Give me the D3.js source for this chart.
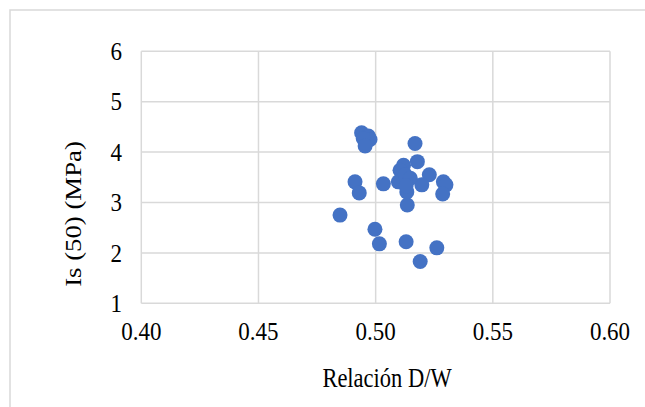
<!DOCTYPE html>
<html><head><meta charset="utf-8">
<script src="https://cdn.jsdelivr.net/npm/d3@7"></script>
<style>html,body{margin:0;padding:0;background:#fff;}svg{display:block;}</style>
</head><body>
<script>
const xVals = [0.4848,0.4912,0.4930,0.5033,0.4997,0.5016,0.5130,0.5261,0.5190,0.5135,0.5289,0.5300,0.5286,0.5229,0.5197,0.5178,0.5168,0.5119,0.5104,0.5097,0.5133,0.5126,0.5148,0.5130,0.4940,0.4969,0.4976,0.4947,0.4955];
const yVals = [2.75,3.41,3.19,3.37,2.47,2.18,2.22,2.10,1.83,2.95,3.41,3.35,3.17,3.55,3.35,3.81,4.17,3.74,3.64,3.41,3.21,3.55,3.48,3.33,4.385,4.32,4.25,4.27,4.12];
const xTicks = [0.40,0.45,0.50,0.55,0.60];
const yTicks = [1,2,3,4,5,6];
const xTitle = "Relación D/W";
const yTitle = "Is (50) (MPa)";

const W = 645, H = 407;
const svg = d3.select("body").append("svg").attr("width", W).attr("height", H);
svg.append("rect").attr("x",10).attr("y",10).attr("width",800).attr("height",600)
  .attr("fill","#fff").attr("stroke","#d9d9d9").attr("stroke-width",1.5);

const x = d3.scaleLinear().domain([0.40,0.60]).range([141.3,610]);
const y = d3.scaleLinear().domain([1,6]).range([303.3,51.3]);

const g = svg.append("g");
g.selectAll("line.h").data(yTicks).enter().append("line")
  .attr("x1",x(0.40)).attr("x2",x(0.60)).attr("y1",d=>y(d)).attr("y2",d=>y(d))
  .attr("stroke","#d9d9d9").attr("stroke-width",1.5);
g.selectAll("line.v").data(xTicks).enter().append("line")
  .attr("y1",y(1)).attr("y2",y(6)).attr("x1",d=>x(d)).attr("x2",d=>x(d))
  .attr("stroke","#d9d9d9").attr("stroke-width",1.5);

const font = "Liberation Serif, Times New Roman, serif";
g.selectAll("text.yt").data(yTicks).enter().append("text")
  .attr("transform",d=>`translate(122,${y(d)}) scale(1,1.08)`)
  .attr("dy","0.35em").attr("text-anchor","end")
  .attr("font-family",font).attr("font-size",23).attr("fill","#000").text(d=>d);
g.selectAll("text.xt").data(xTicks).enter().append("text")
  .attr("transform",d=>`translate(${x(d)},339.5) scale(1,1.08)`)
  .attr("text-anchor","middle")
  .attr("font-family",font).attr("font-size",23).attr("fill","#000").text(d=>d.toFixed(2));

svg.append("text").attr("transform","translate(387,387) scale(1,1.22)").attr("text-anchor","middle")
  .attr("font-family",font).attr("font-size",22.5).attr("fill","#000").text(xTitle);
svg.append("text").attr("transform","translate(81,214) rotate(-90) scale(1.19,1)").attr("text-anchor","middle")
  .attr("font-family",font).attr("font-size",22.5).attr("fill","#000").text(yTitle);

const pts = xVals.map((v,i)=>({x:v,y:yVals[i]}));
g.selectAll("circle").data(pts).enter().append("circle")
  .attr("cx",d=>x(d.x)).attr("cy",d=>y(d.y)).attr("r",7.5).attr("fill","#4472C4");
</script>
</body></html>
